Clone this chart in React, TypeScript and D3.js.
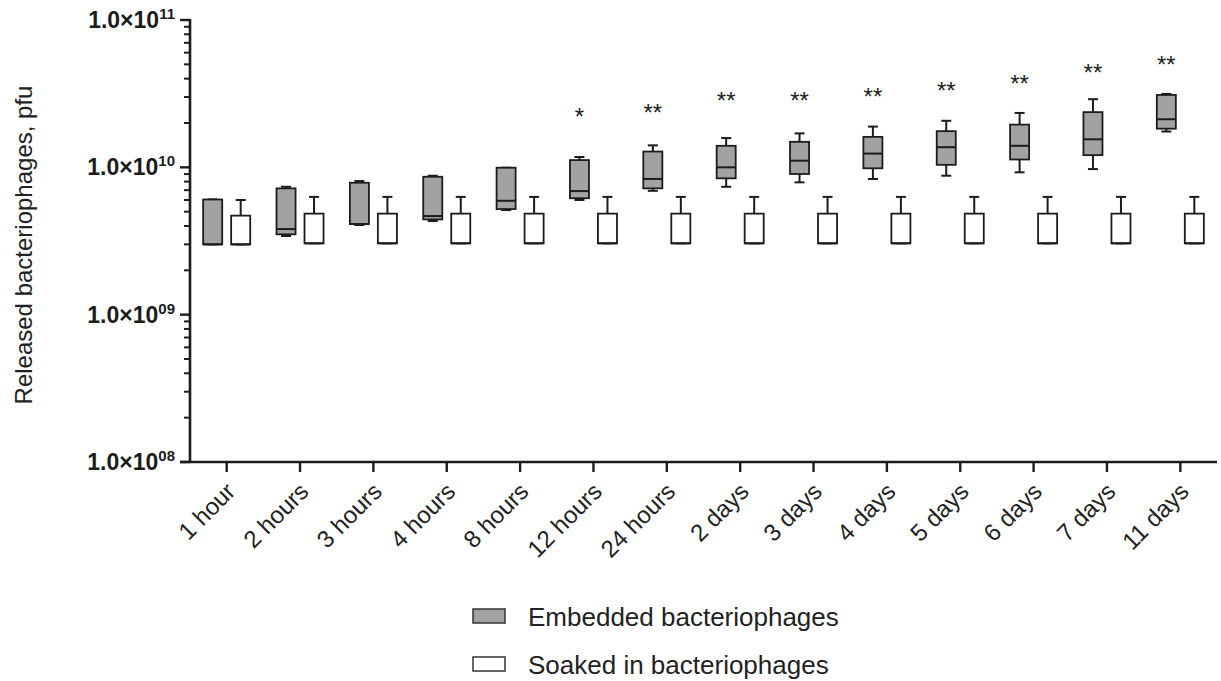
import { useEffect, useRef } from "react";
import * as d3 from "d3";

// time points on x axis
const CATEGORIES = [
  "1 hour", "2 hours", "3 hours", "4 hours", "8 hours", "12 hours", "24 hours",
  "2 days", "3 days", "4 days", "5 days", "6 days", "7 days", "11 days",
];

// Embedded bacteriophages (pfu)
const EMB_MIN = [3.0e9, 3.42e9, 4.06e9, 4.32e9, 5.13e9, 6.0e9, 6.93e9, 7.38e9, 7.91e9, 8.33e9, 8.77e9, 9.25e9, 9.73e9, 1.75e10];
const EMB_Q1 = [3.0e9, 3.51e9, 4.12e9, 4.43e9, 5.21e9, 6.17e9, 7.2e9, 8.42e9, 9.01e9, 9.85e9, 1.04e10, 1.13e10, 1.21e10, 1.83e10];
const EMB_MED = [3.0e9, 3.81e9, 4.12e9, 4.67e9, 5.93e9, 6.9e9, 8.34e9, 1.0e10, 1.11e10, 1.24e10, 1.37e10, 1.4e10, 1.55e10, 2.12e10];
const EMB_Q3 = [6.05e9, 7.2e9, 7.86e9, 8.63e9, 9.94e9, 1.12e10, 1.28e10, 1.4e10, 1.49e10, 1.61e10, 1.76e10, 1.95e10, 2.37e10, 3.1e10];
const EMB_MAX = [6.05e9, 7.38e9, 8.07e9, 8.77e9, 9.94e9, 1.175e10, 1.41e10, 1.58e10, 1.7e10, 1.89e10, 2.07e10, 2.34e10, 2.9e10, 3.15e10];

// Soaked in bacteriophages (pfu)
const SOAK_MIN = [3.0e9, 3.05e9, 3.05e9, 3.05e9, 3.05e9, 3.05e9, 3.05e9, 3.05e9, 3.05e9, 3.05e9, 3.05e9, 3.05e9, 3.05e9, 3.05e9];
const SOAK_Q1 = [3.0e9, 3.05e9, 3.05e9, 3.05e9, 3.05e9, 3.05e9, 3.05e9, 3.05e9, 3.05e9, 3.05e9, 3.05e9, 3.05e9, 3.05e9, 3.05e9];
const SOAK_MED = [3.0e9, 3.05e9, 3.05e9, 3.05e9, 3.05e9, 3.05e9, 3.05e9, 3.05e9, 3.05e9, 3.05e9, 3.05e9, 3.05e9, 3.05e9, 3.05e9];
const SOAK_Q3 = [4.7e9, 4.85e9, 4.85e9, 4.85e9, 4.85e9, 4.85e9, 4.85e9, 4.85e9, 4.85e9, 4.85e9, 4.85e9, 4.85e9, 4.85e9, 4.85e9];
const SOAK_MAX = [6.0e9, 6.3e9, 6.3e9, 6.3e9, 6.3e9, 6.3e9, 6.3e9, 6.3e9, 6.3e9, 6.3e9, 6.3e9, 6.3e9, 6.3e9, 6.3e9];

// significance marks and the level (pfu) they sit at
const SIG_MARKS = ["", "", "", "", "", "*", "**", "**", "**", "**", "**", "**", "**", "**"];
const SIG_LEVEL = [0, 0, 0, 0, 0, 2.34e10, 2.49e10, 3.01e10, 3.01e10, 3.18e10, 3.52e10, 3.92e10, 4.65e10, 5.3e10];

const Y_TICKS = [1e8, 1e9, 1e10, 1e11];
const Y_EXP = ["08", "09", "10", "11"];

const SERIES = [
  { key: "emb", label: "Embedded bacteriophages", fill: "#a2a2a5", min: EMB_MIN, q1: EMB_Q1, med: EMB_MED, q3: EMB_Q3, max: EMB_MAX },
  { key: "soak", label: "Soaked in bacteriophages", fill: "#ffffff", min: SOAK_MIN, q1: SOAK_Q1, med: SOAK_MED, q3: SOAK_Q3, max: SOAK_MAX },
];

const W = 1221;
const H = 681;
const AXIS_X = 190;
const AXIS_RIGHT = 1217;
const AXIS_TOP = 20;
const AXIS_BOTTOM = 462;
const FONT = "'Liberation Sans', Arial, sans-serif";
const INK = "#1c1c1c";

export default function App() {
  const svgRef = useRef<SVGSVGElement | null>(null);

  useEffect(() => {
    const svg = d3.select(svgRef.current);
    svg.selectAll("*").remove();

    const y = d3.scaleLog().domain([1e8, 1e11]).range([AXIS_BOTTOM, AXIS_TOP]);
    const x = d3.scaleBand().domain(CATEGORIES).range([AXIS_X, AXIS_RIGHT]);
    const sub = d3
      .scaleBand()
      .domain(SERIES.map((s) => s.key))
      .range([0, x.bandwidth()])
      .paddingInner(0.32)
      .paddingOuter(0.47);
    const bw = sub.bandwidth();
    const capW = 10;

    // y axis
    const yAxis = svg.append("g");
    yAxis
      .append("line")
      .attr("x1", AXIS_X)
      .attr("x2", AXIS_X)
      .attr("y1", AXIS_TOP - 1)
      .attr("y2", AXIS_BOTTOM)
      .attr("stroke", INK)
      .attr("stroke-width", 2.6);
    const minor: number[] = [];
    for (let d = 8; d < 11; d++) {
      for (let m = 2; m <= 9; m++) minor.push(m * Math.pow(10, d));
    }
    yAxis
      .selectAll(".minor")
      .data(minor)
      .join("line")
      .attr("class", "minor")
      .attr("x1", AXIS_X - 6)
      .attr("x2", AXIS_X)
      .attr("y1", (d) => y(d))
      .attr("y2", (d) => y(d))
      .attr("stroke", INK)
      .attr("stroke-width", 2);
    yAxis
      .selectAll(".major")
      .data(Y_TICKS)
      .join("line")
      .attr("class", "major")
      .attr("x1", AXIS_X - 10)
      .attr("x2", AXIS_X)
      .attr("y1", (d) => y(d))
      .attr("y2", (d) => y(d))
      .attr("stroke", INK)
      .attr("stroke-width", 2.4);
    const yl = yAxis
      .selectAll(".ylab")
      .data(Y_TICKS)
      .join("text")
      .attr("class", "ylab")
      .attr("x", AXIS_X - 15)
      .attr("y", (d) => y(d) + 8)
      .attr("text-anchor", "end")
      .attr("font-family", FONT)
      .attr("font-size", 23)
      .attr("font-weight", 700)
      .attr("fill", INK);
    yl.append("tspan").text("1.0×10");
    yl.append("tspan")
      .attr("dy", -9)
      .attr("font-size", 15)
      .text((_, i) => Y_EXP[i]);

    svg
      .append("text")
      .attr("transform", `translate(32,${(AXIS_TOP + AXIS_BOTTOM) / 2 + 4}) rotate(-90)`)
      .attr("text-anchor", "middle")
      .attr("font-family", FONT)
      .attr("font-size", 24)
      .attr("fill", "#222")
      .text("Released bacteriophages, pfu");

    // x axis
    const xAxis = svg.append("g");
    xAxis
      .append("line")
      .attr("x1", AXIS_X - 10)
      .attr("x2", AXIS_RIGHT)
      .attr("y1", AXIS_BOTTOM)
      .attr("y2", AXIS_BOTTOM)
      .attr("stroke", INK)
      .attr("stroke-width", 2.6);
    xAxis
      .selectAll(".xtick")
      .data(CATEGORIES)
      .join("line")
      .attr("class", "xtick")
      .attr("x1", (d) => (x(d) ?? 0) + x.bandwidth() / 2)
      .attr("x2", (d) => (x(d) ?? 0) + x.bandwidth() / 2)
      .attr("y1", AXIS_BOTTOM)
      .attr("y2", AXIS_BOTTOM + 10)
      .attr("stroke", INK)
      .attr("stroke-width", 2.4);
    xAxis
      .selectAll(".xlab")
      .data(CATEGORIES)
      .join("text")
      .attr("class", "xlab")
      .attr("transform", (d) => {
        const cx = (x(d) ?? 0) + x.bandwidth() / 2 + 10;
        return `translate(${cx},${AXIS_BOTTOM + 31}) rotate(-45)`;
      })
      .attr("text-anchor", "end")
      .attr("font-family", FONT)
      .attr("font-size", 24)
      .attr("fill", "#222")
      .text((d) => d);

    // boxes
    SERIES.forEach((s) => {
      const g = svg.append("g");
      CATEGORIES.forEach((c, i) => {
        const x0 = (x(c) ?? 0) + (sub(s.key) ?? 0);
        const cx = x0 + bw / 2;
        const bx = g.append("g");
        bx.append("line")
          .attr("x1", cx).attr("x2", cx)
          .attr("y1", y(s.max[i])).attr("y2", y(s.q3[i]))
          .attr("stroke", INK).attr("stroke-width", 2);
        bx.append("line")
          .attr("x1", cx).attr("x2", cx)
          .attr("y1", y(s.q1[i])).attr("y2", y(s.min[i]))
          .attr("stroke", INK).attr("stroke-width", 2);
        bx.append("line")
          .attr("x1", cx - capW / 2).attr("x2", cx + capW / 2)
          .attr("y1", y(s.max[i])).attr("y2", y(s.max[i]))
          .attr("stroke", INK).attr("stroke-width", 2);
        bx.append("line")
          .attr("x1", cx - capW / 2).attr("x2", cx + capW / 2)
          .attr("y1", y(s.min[i])).attr("y2", y(s.min[i]))
          .attr("stroke", INK).attr("stroke-width", 2);
        bx.append("rect")
          .attr("x", x0)
          .attr("y", y(s.q3[i]))
          .attr("width", bw)
          .attr("height", y(s.q1[i]) - y(s.q3[i]))
          .attr("fill", s.fill)
          .attr("stroke", INK)
          .attr("stroke-width", 1.8);
        bx.append("line")
          .attr("x1", x0).attr("x2", x0 + bw)
          .attr("y1", y(s.med[i])).attr("y2", y(s.med[i]))
          .attr("stroke", INK).attr("stroke-width", 2);
      });
    });

    // significance
    const embKey = SERIES[0].key;
    svg
      .append("g")
      .selectAll("text")
      .data(CATEGORIES.map((c, i) => ({ c, m: SIG_MARKS[i], v: SIG_LEVEL[i] })).filter((d) => d.m))
      .join("text")
      .attr("x", (d) => (x(d.c) ?? 0) + (sub(embKey) ?? 0) + bw / 2)
      .attr("y", (d) => y(d.v) + 12)
      .attr("text-anchor", "middle")
      .attr("font-family", FONT)
      .attr("font-size", 24)
      .attr("fill", "#222")
      .text((d) => d.m);

    // legend
    const leg = svg.append("g").attr("transform", "translate(473,609)");
    SERIES.forEach((s, i) => {
      const row = leg.append("g").attr("transform", `translate(0,${i * 48})`);
      row.append("rect")
        .attr("x", 0).attr("y", 0)
        .attr("width", 32).attr("height", 14)
        .attr("fill", s.fill)
        .attr("stroke", "#333")
        .attr("stroke-width", 1.5);
      row.append("text")
        .attr("x", 55)
        .attr("y", 17)
        .attr("font-family", FONT)
        .attr("font-size", 26)
        .attr("fill", "#222")
        .text(s.label);
    });
  }, []);

  return (
    <svg
      ref={svgRef}
      width={W}
      height={H}
      viewBox={`0 0 ${W} ${H}`}
      style={{ position: "absolute", left: 0, top: 0, background: "#fff" }}
    />
  );
}
